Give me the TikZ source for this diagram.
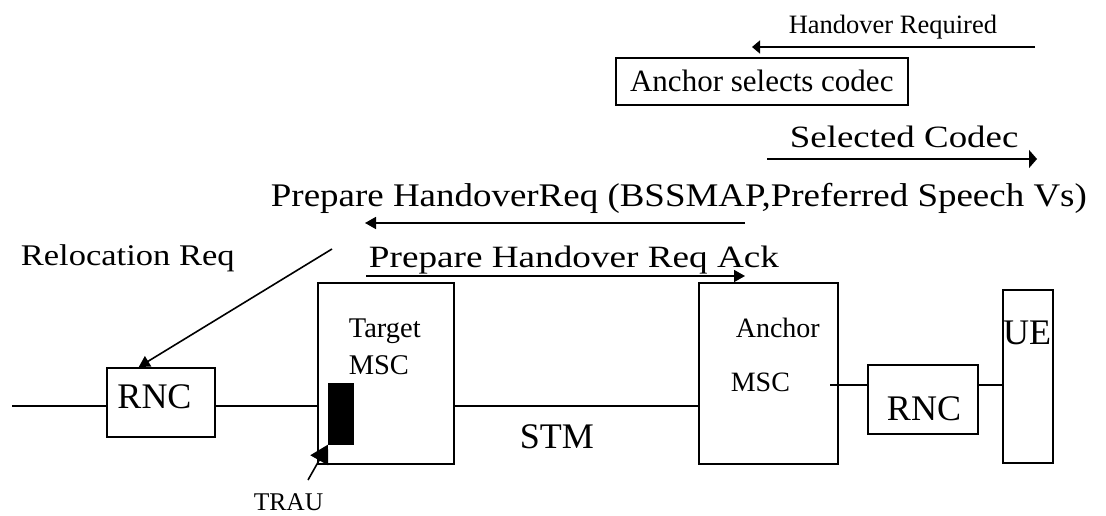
\documentclass[tikz,border=0pt]{standalone}
\usepackage{fontspec}
\setmainfont{Liberation Serif}
\usetikzlibrary{arrows.meta}
\newcommand{\fsz}[1]{\fontsize{#1}{#1}\selectfont}

\begin{document}
\begin{tikzpicture}[x=1pt,y=-1pt,line width=1.6pt,
  box/.style={draw, inner sep=0pt, anchor=north west},
  lbl/.style={inner sep=0pt, anchor=base west},
  msg/.style={-{Triangle[length=11pt,width=12pt]}}]
\useasboundingbox (0,0) rectangle (1106,516);
\node[box, minimum width=108pt, minimum height=69pt] (rnc1) at (106,367) {};
\node[lbl, font=\fsz{36}, anchor=base] (rnc1t) at (154.5,408) {RNC};
\node[box, minimum width=136pt, minimum height=181pt] (tmsc) at (317,282) {};
\node[lbl, font=\fsz{28.5}] (tmsct) at (348,337) {Target};
\node[lbl, font=\fsz{28.5}] (tmscm) at (348,374) {MSC};
\node[box, fill, minimum width=24pt, minimum height=60pt] (trau) at (328,383) {};
\node[lbl, font=\fsz{25.5}] (traut) at (253,510) {TRAU};
\node[box, minimum width=139pt, minimum height=181pt] (amsc) at (698,282) {};
\node[lbl, font=\fsz{28}] (amsct) at (735,337) {Anchor};
\node[lbl, font=\fsz{28}] (amscm) at (730,391) {MSC};
\node[box, minimum width=110pt, minimum height=69pt] (rnc2) at (867,364) {};
\node[lbl, font=\fsz{36}, anchor=base] (rnc2t) at (924,420) {RNC};
\node[box, minimum width=50pt, minimum height=173pt] (ue) at (1002,289) {};
\node[lbl, font=\fsz{36}, anchor=base] (uet) at (1027,344) {UE};
\node[lbl, font=\fsz{36}] (stm) at (519,448) {STM};
\coordinate (bus) at (12,406);
\coordinate (acc) at (830,385);
\draw (bus) -- (bus -| rnc1.west);
\draw (bus -| rnc1.east) -- (bus -| tmsc.west);
\draw (bus -| tmsc.east) -- (bus -| amsc.west);
\draw (acc) -- (acc -| rnc2.west);
\draw (acc -| rnc2.east) -- (acc -| ue.west);
\coordinate (trau1) at (308,480);
\draw[-{Triangle[length=18pt,width=20pt]}] (trau1) -- (trau.south west);
\node[lbl, font=\fsz{26.5}] (hreq) at (788,34) {Handover Required};
\coordinate (hreq1) at (1035,47);
\coordinate (hreq2) at (752,47);
\draw[-{Triangle[length=8pt,width=13pt]}] (hreq1) -- (hreq2);
\node[box, minimum width=292pt, minimum height=47pt, font=\fsz{31}] (sel) at (615,57) {Anchor selects codec};
\node[lbl, font=\fsz{31}, xscale=1.19] (scod) at (789,148) {Selected Codec};
\coordinate (scod1) at (767,159);
\coordinate (scod2) at (1037,159);
\draw[-{Triangle[length=8pt,width=18pt]}] (scod1) -- (scod2);
\node[lbl, font=\fsz{33}, xscale=1.12] (phreq) at (270,207) {Prepare HandoverReq (BSSMAP,Preferred Speech Vs)};
\coordinate (phreq1) at (745,223);
\coordinate (phreq2) at (365,223);
\draw[msg] (phreq1) -- (phreq2);
\node[lbl, font=\fsz{30}, xscale=1.15] (reloc) at (20,265) {Relocation Req};
\coordinate (reloc1) at (332,249);
\draw[msg] (reloc1) -- (rnc1.122);
\node[lbl, font=\fsz{31}, xscale=1.2] (phack) at (368,267) {Prepare Handover Req Ack};
\coordinate (phack1) at (366,276);
\coordinate (phack2) at (745,276);
\draw[msg] (phack1) -- (phack2);
\end{tikzpicture}
\end{document}
